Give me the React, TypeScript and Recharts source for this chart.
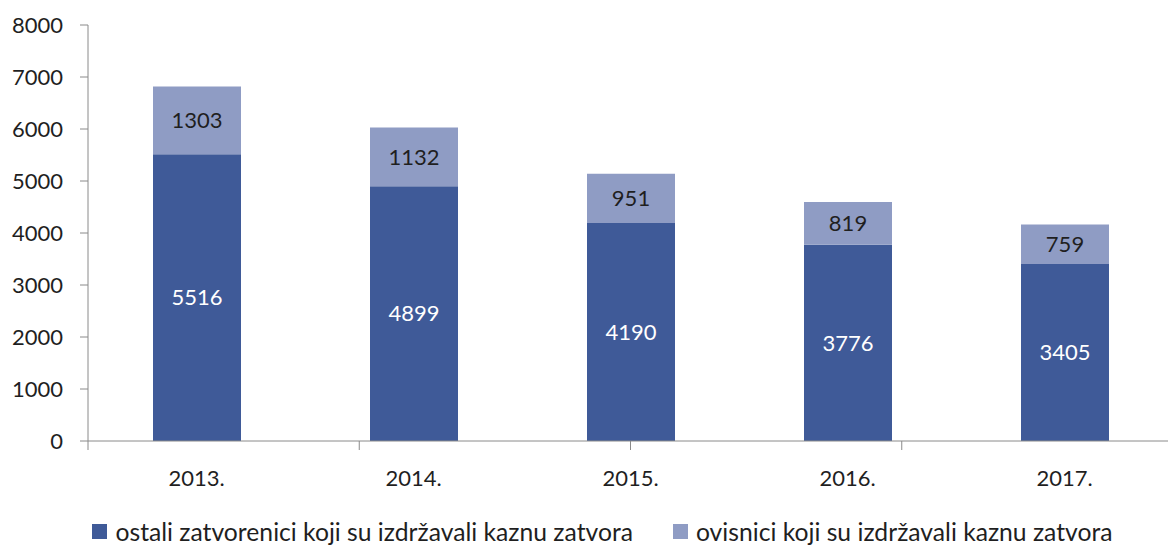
import React from "react";
import { BarChart, Bar, XAxis, YAxis, Legend, LabelList } from "recharts";

const categories = ["2013.", "2014.", "2015.", "2016.", "2017."];
const ostali = [5516, 4899, 4190, 3776, 3405];
const ovisnici = [1303, 1132, 951, 819, 759];
const yTicks = [0, 1000, 2000, 3000, 4000, 5000, 6000, 7000, 8000];
const boundaryTicks = [0, 1, 2, 3, 4, 5];
const seriesNames = [
  "ostali zatvorenici koji su izdržavali kaznu zatvora",
  "ovisnici koji su izdržavali kaznu zatvora",
];

const DARK = "#3F5A98";
const LIGHT = "#8F9CC4";
const TEXT = "#1f1f1f";
const AXIS = "#8a8a8a";
const FONT = "Lato, 'Open Sans', sans-serif";

const data = categories.map((c, i) => ({ cat: c, ostali: ostali[i], ovisnici: ovisnici[i] }));

const EmptyTick = () => <g />;

const LegendContent = () => (
  <div
    style={{
      display: "flex",
      justifyContent: "center",
      alignItems: "center",
      height: 44,
      boxSizing: "border-box",
      paddingTop: 16,
      fontFamily: FONT,
      fontSize: 24.7,
      color: TEXT,
      paddingLeft: 32,
    }}
  >
    {[DARK, LIGHT].map((col, i) => (
      <div key={i} style={{ display: "flex", alignItems: "center", marginRight: i === 0 ? 40 : 0 }}>
        <div style={{ width: 15, height: 15, background: col, marginRight: 8 }} />
        <span>{seriesNames[i]}</span>
      </div>
    ))}
  </div>
);

export default function App() {
  return (
    <div
      style={{
        position: "fixed",
        top: 0,
        left: 0,
        width: 1168,
        height: 545,
        overflow: "hidden",
        background: "#fff",
      }}
    >
      <BarChart
        width={1180}
        height={545}
        data={data}
        margin={{ top: 25, right: 7, bottom: 0, left: 0 }}
      >
        <XAxis
          xAxisId="edge"
          type="number"
          domain={[0, 5]}
          ticks={boundaryTicks}
          interval={0}
          height={1}
          tick={<EmptyTick />}
          tickLine={{ stroke: AXIS, strokeWidth: 1 }}
          tickSize={9}
          axisLine={{ stroke: AXIS, strokeWidth: 1 }}
        />
        <XAxis
          xAxisId="main"
          dataKey="cat"
          height={59}
          tickLine={false}
          tickSize={0}
          tickMargin={28}
          axisLine={false}
          tick={{ fill: TEXT, fontSize: 22, fontFamily: FONT }}
        />
        <YAxis
          width={88}
          domain={[0, 8000]}
          ticks={yTicks}
          interval={0}
          tickSize={8}
          tickMargin={17}
          tickLine={{ stroke: AXIS }}
          axisLine={{ stroke: AXIS, strokeWidth: 1 }}
          tick={{ fill: TEXT, fontSize: 22, fontFamily: FONT }}
        />
        <Legend verticalAlign="bottom" height={44} content={<LegendContent />} />
        <Bar xAxisId="main" dataKey="ostali" stackId="a" fill={DARK} barSize={88} isAnimationActive={false}>
          <LabelList dataKey="ostali" position="center" fill="#ffffff" fontSize={22} fontFamily={FONT} />
        </Bar>
        <Bar xAxisId="main" dataKey="ovisnici" stackId="a" fill={LIGHT} barSize={88} isAnimationActive={false}>
          <LabelList dataKey="ovisnici" position="center" fill={TEXT} fontSize={22} fontFamily={FONT} />
        </Bar>
      </BarChart>
    </div>
  );
}
